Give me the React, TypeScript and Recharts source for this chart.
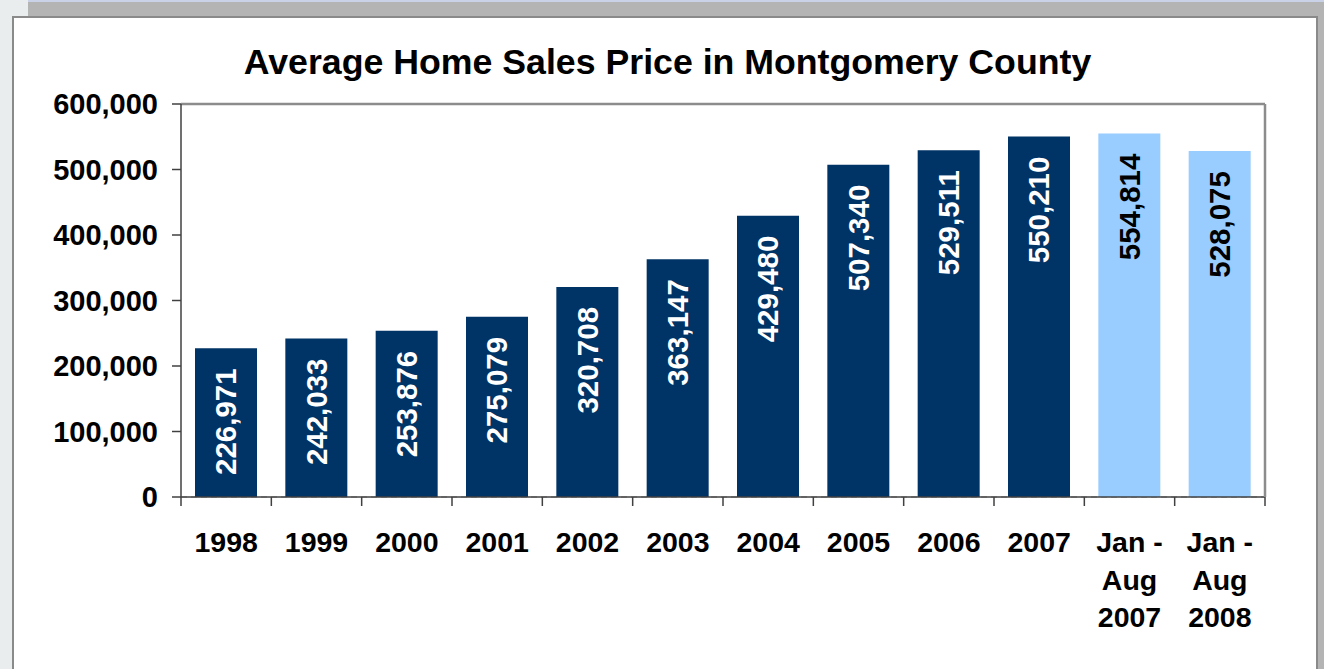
import React from "react";
import {
  BarChart,
  Bar,
  XAxis,
  YAxis,
  CartesianGrid,
  Cell,
  LabelList,
  ReferenceLine
} from "recharts";

const categories = [
  "1998",
  "1999",
  "2000",
  "2001",
  "2002",
  "2003",
  "2004",
  "2005",
  "2006",
  "2007",
  "Jan -\nAug\n2007",
  "Jan -\nAug\n2008"
];
const avgPrice = [
  226971, 242033, 253876, 275079, 320708, 363147, 429480, 507340, 529511,
  550210, 554814, 528075
];
// partial-year (Jan - Aug) figures are drawn in light blue
const partialYear = [
  false, false, false, false, false, false, false, false, false, false, true,
  true
];
const yTicks = [0, 100000, 200000, 300000, 400000, 500000, 600000];

const data = categories.map((name, i) => ({
  name,
  price: avgPrice[i],
  partial: partialYear[i]
}));

const W = 1324;
const H = 669;
const PLOT_LEFT = 181;
const PLOT_RIGHT = 1265;
const STEP = (PLOT_RIGHT - PLOT_LEFT) / categories.length;
const FONT = "'Liberation Sans', Arial, sans-serif";
const DARK = "#003366";
const LIGHT = "#99CCFF";

const fmt = (v: number) => v.toLocaleString("en-US");

const XTick = (props: any) => {
  const { x, y, payload, index } = props;
  const lines = String(payload.value).split("\n");
  const left = x - STEP / 2;
  const last = index === categories.length - 1;
  return (
    <g>
      <line x1={left} y1={y} x2={left} y2={y + 9} stroke="#404040" strokeWidth={1.5} />
      {last && (
        <line x1={x + STEP / 2} y1={y} x2={x + STEP / 2} y2={y + 9} stroke="#404040" strokeWidth={1.5} />
      )}
      {lines.map((ln, i) => (
        <text
          key={i}
          x={x}
          y={y + 55 + i * 37.5}
          textAnchor="middle"
          fontFamily={FONT}
          fontWeight="bold"
          fontSize={28.5}
          fill="#000"
        >
          {ln}
        </text>
      ))}
    </g>
  );
};

const BarValueLabel = (props: any) => {
  const { x, y, width, value, index } = props;
  const cx = Number(x) + Number(width) / 2;
  const ty = Number(y) + 20;
  return (
    <text
      x={cx}
      y={ty}
      transform={`rotate(-90, ${cx}, ${ty})`}
      textAnchor="end"
      dominantBaseline="central"
      fontFamily={FONT}
      fontWeight="bold"
      fontSize={29.5}
      fill={partialYear[index] ? "#000" : "#fff"}
    >
      {fmt(Number(value))}
    </text>
  );
};

export default function App() {
  return (
    <div
      style={{
        position: "fixed",
        left: 0,
        top: 0,
        width: W,
        height: H,
        background: "#e9eded",
        overflow: "hidden"
      }}
    >
      <div
        style={{
          position: "absolute",
          left: 28,
          top: 0,
          right: 0,
          bottom: 0,
          background: "#b4b4b4",
          borderTop: "2px solid #c9d2e6"
        }}
      />
      <div
        style={{
          position: "absolute",
          left: 12,
          top: 16,
          width: 1306,
          height: 660,
          boxSizing: "border-box",
          border: "2px solid #8a8a8a",
          background: "#fff"
        }}
      />
      <div
        style={{
          position: "absolute",
          left: 12,
          top: 45,
          width: 1311,
          textAlign: "center",
          fontFamily: FONT,
          fontWeight: "bold",
          fontSize: 35.7,
          lineHeight: "35px",
          color: "#000"
        }}
      >
        Average Home Sales Price in Montgomery County
      </div>
      <div style={{ position: "absolute", left: 0, top: 0 }}>
        <BarChart
          width={W}
          height={H}
          data={data}
          margin={{ top: 104, right: 58, bottom: 42, left: 81 }}
          barSize={62}
        >
          <CartesianGrid
            vertical={false}
            stroke="#8c8c8c"
            strokeDasharray="6 4"
          />
          <XAxis
            dataKey="name"
            interval={0}
            height={130}
            tickSize={0}
            tickMargin={0}
            tickLine={false}
            axisLine={{ stroke: "#404040", strokeWidth: 1.5 }}
            tick={<XTick />}
          />
          <YAxis
            yAxisId="left"
            width={100}
            domain={[0, 600000]}
            ticks={yTicks}
            tickFormatter={fmt}
            tickSize={9}
            tickMargin={14}
            tickLine={{ stroke: "#404040", strokeWidth: 1.5 }}
            axisLine={{ stroke: "#404040", strokeWidth: 1.5 }}
            tick={{
              fontFamily: FONT,
              fontWeight: "bold",
              fontSize: 29,
              fill: "#000"
            }}
          />
          <YAxis
            yAxisId="right"
            orientation="right"
            width={1}
            domain={[0, 600000]}
            ticks={yTicks}
            tick={false}
            tickLine={false}
            axisLine={{ stroke: "#8c8c8c", strokeWidth: 2.5 }}
          />
          <ReferenceLine
            yAxisId="left"
            y={600000}
            stroke="#8c8c8c"
            strokeWidth={2.5}
          />
          <Bar
            yAxisId="left"
            dataKey="price"
            isAnimationActive={false}
          >
            {data.map((d, i) => (
              <Cell key={i} fill={d.partial ? LIGHT : DARK} />
            ))}
            <LabelList dataKey="price" content={<BarValueLabel />} />
          </Bar>
        </BarChart>
      </div>
    </div>
  );
}
